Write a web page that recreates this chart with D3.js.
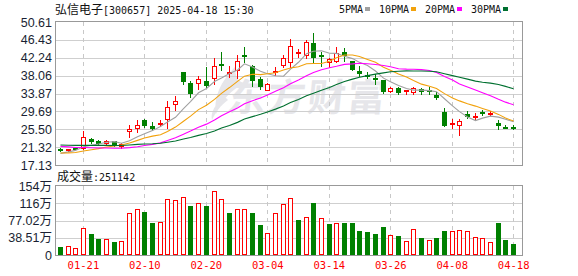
<!DOCTYPE html>
<html><head><meta charset="utf-8">
<script src="https://cdn.jsdelivr.net/npm/d3@7/dist/d3.min.js"></script>
<style>html,body{margin:0;padding:0;background:#fff;}svg{display:block}</style>
</head><body>
<svg id="c" width="578" height="276"></svg>
<script>
// ---------------- DATA ----------------
const stockName = "弘信电子";
const stockCode = "300657";
const stamp = "2025-04-18 15:30";
const dates = ["2025-01-16","2025-01-17","2025-01-20","2025-01-21","2025-01-22","2025-01-23","2025-01-24","2025-01-27",
"2025-02-05","2025-02-06","2025-02-07","2025-02-10","2025-02-11","2025-02-12","2025-02-13","2025-02-14","2025-02-17","2025-02-18","2025-02-19","2025-02-20","2025-02-21","2025-02-24","2025-02-25","2025-02-26","2025-02-27","2025-02-28",
"2025-03-03","2025-03-04","2025-03-05","2025-03-06","2025-03-07","2025-03-10","2025-03-11","2025-03-12","2025-03-13","2025-03-14","2025-03-17","2025-03-18","2025-03-19","2025-03-20","2025-03-21","2025-03-24","2025-03-25","2025-03-26","2025-03-27","2025-03-28","2025-03-31",
"2025-04-01","2025-04-02","2025-04-03","2025-04-07","2025-04-08","2025-04-09","2025-04-10","2025-04-11","2025-04-14","2025-04-15","2025-04-16","2025-04-17","2025-04-18"];
const open  = [20.95,20.6,21.15,21.0,23.2,22.8,22.2,22.7,21.6,25.1,25.9,27.6,26.2,26.7,27.8,31.3,38.8,36.3,36.3,36.9,37.6,40.8,38.8,39.4,43.0,40.4,37.3,34.8,38.9,40.5,41.2,43.3,42.9,45.8,43.0,41.2,41.5,43.7,41.4,39.1,38.3,37.6,37.0,34.4,35.1,34.4,34.2,35.0,34.7,33.6,29.5,26.7,26.5,29.1,28.5,29.6,29.1,26.9,26.0,26.05];
const high  = [21.1,20.95,21.2,25.0,23.4,22.9,23.1,22.8,22.3,26.6,27.7,27.9,27.1,27.6,32.2,33.3,38.9,36.7,37.9,40.0,42.1,43.5,40.2,42.8,44.7,40.6,37.7,36.3,40.1,43.0,46.7,44.4,46.4,48.0,43.7,42.2,44.7,44.5,41.5,40.2,39.0,38.5,37.1,35.3,35.4,34.8,35.4,35.2,35.4,34.3,30.4,27.9,27.9,29.8,29.2,30.1,29.8,27.6,26.6,26.5];
const low   = [20.5,20.4,20.9,20.8,22.3,22.0,22.1,21.5,21.2,23.6,24.9,26.1,25.3,26.2,25.9,30.1,36.0,33.0,34.9,35.5,36.2,39.3,37.7,37.6,41.2,35.6,35.0,34.6,38.1,40.0,40.0,42.3,42.1,41.1,40.4,40.1,41.3,41.4,39.3,37.9,37.5,36.1,34.0,34.3,33.8,33.8,33.8,33.8,33.8,32.5,26.2,25.7,24.1,28.2,28.0,28.8,28.6,25.6,25.9,25.6];
const close = [20.6,20.85,20.95,23.8,22.6,22.1,22.8,21.7,22.0,25.5,26.6,26.3,25.5,26.9,30.6,32.2,36.5,33.7,37.2,35.6,40.4,40.5,39.0,41.4,42.8,36.7,35.5,36.0,39.2,42.2,45.0,43.5,46.0,42.1,42.8,42.0,43.4,42.6,39.4,38.4,38.2,37.1,34.2,35.2,34.1,34.6,35.2,34.2,34.6,32.9,26.3,26.9,27.4,28.4,28.7,29.1,29.3,26.2,25.95,25.9];
// volume in 万手
const volume = [17.9,20.1,15.0,59.6,46.9,35.7,35.0,29.0,31.3,93.1,102.0,96.0,71.4,73.0,124.3,122.1,128.8,109.4,116.1,109.4,142.2,124.3,93.8,102.0,102.0,93.8,67.0,48.4,93.8,113.2,126.6,78.1,84.2,116.1,81.9,69.2,71.4,72.1,72.1,53.6,51.3,46.9,62.5,44.0,41.7,31.3,57.4,38.0,33.5,38.0,53.6,52.9,55.1,52.9,39.5,37.3,29.0,71.4,33.5,25.1142];
// closes before the visible window (needed for the moving averages)
const priorCloses = [22.0,22.3,22.8,23.1,22.6,22.2,22.5,22.0,22.3,22.2,23.5,24.0,23.8,23.5,23.2,22.9,22.6,22.4,22.3,22.3,20.6,20.3,20.0,19.8,19.5,19.1,19.2,19.6,20.8];
const maPeriods = [5,10,20,30];
const maNames = ["5PMA","10PMA","20PMA","30PMA"];
const maColors = ["#a0a0a0","#f2a20c","#ff00ff","#007030"];
const priceTicks = [17.13,21.32,25.50,29.69,33.87,38.06,42.24,46.43,50.61];
const volTicks = [0,38.51,77.02,115.53,154.04];
const volTickLabels = ["0","38.51万","77.02万","116万","154万"];
const dateTicks = ["2025-01-21","2025-02-10","2025-02-20","2025-03-04","2025-03-14","2025-03-26","2025-04-08","2025-04-18"];

// ---------------- CHART ----------------
const RED="#ff0000", GREEN="#008000";
const svg = d3.select("#c");
const L=56, R=522, T=22, B=165, VT=186, VB=255;
const x = d3.scaleBand().domain(dates).range([56,517]);
const cx = d => Math.round(x(d) + x.bandwidth()/2);
const y = d3.scaleLinear().domain([17.13,50.61]).range([B,T]);
const yv = d3.scaleLinear().domain([0,154.04]).range([VB,VT]);

const data = dates.map((d,i)=>({date:d,o:open[i],h:high[i],l:low[i],c:close[i],v:volume[i],
  prev: i===0 ? priorCloses[priorCloses.length-1] : close[i-1]}));
const all = priorCloses.concat(close);
const np = priorCloses.length;

// watermark
const wm = svg.append("g").attr("fill","#e6e6ea");
wm.append("path").attr("d","M236,66 C224,78 213,94 216,114 C222,100 230,90 246,83 C238,83 234,76 236,66 Z M224,96 C216,104 210,112 212,120 C216,112 220,106 228,100 Z");
wm.append("text").attr("x",226).attr("y",111).attr("font-size",38).attr("font-weight","bold")
  .attr("font-family","'Noto Sans CJK SC'").attr("letter-spacing",2)
  .attr("transform","skewX(-6) translate(12,0)").text("东方财富");

// grid
const grid = svg.append("g").attr("shape-rendering","crispEdges");
priceTicks.slice(1,-1).forEach(v=>{
  const yy=Math.round(y(v))+0.5;
  grid.append("line").attr("x1",L).attr("x2",R).attr("y1",yy).attr("y2",yy).attr("stroke","#cfcfcf");
});
volTicks.slice(1,-1).forEach(v=>{
  const yy=Math.round(yv(v))+0.5;
  grid.append("line").attr("x1",L).attr("x2",R).attr("y1",yy).attr("y2",yy).attr("stroke","#cfcfcf");
});
dateTicks.forEach(d=>{
  const xx=cx(d)+0.5;
  [[T,B],[VT,VB]].forEach(([a,b])=>grid.append("line").attr("x1",xx).attr("x2",xx).attr("y1",a).attr("y2",b)
    .attr("stroke","#c8c8c8").attr("stroke-dasharray","4,4"));
});

// candles
const cg = svg.append("g").attr("shape-rendering","crispEdges");
data.forEach(d=>{
  const up = d.c >= d.o;
  const col = up ? RED : GREEN;
  const xc = cx(d.date);
  cg.append("line").attr("x1",xc+0.5).attr("x2",xc+0.5).attr("y1",Math.round(y(d.h))).attr("y2",Math.round(y(d.l))+1).attr("stroke",col);
  const y1=Math.round(y(Math.max(d.o,d.c))), y2=Math.round(y(Math.min(d.o,d.c)));
  if(up){
    cg.append("rect").attr("x",xc-2+0.5).attr("y",y1+0.5).attr("width",4).attr("height",Math.max(y2-y1,1))
      .attr("fill","#fff").attr("stroke",col);
  } else {
    cg.append("rect").attr("x",xc-2).attr("y",y1).attr("width",5).attr("height",Math.max(y2-y1,2)).attr("fill",col);
  }
});

// moving averages
const clipId="plotclip";
svg.append("clipPath").attr("id",clipId).append("rect").attr("x",L).attr("y",T).attr("width",R-L).attr("height",B-T);
maPeriods.forEach((n,k)=>{
  const pts = data.map((d,i)=>({date:d.date, v:d3.mean(all.slice(np+i-n+1, np+i+1))}));
  svg.append("path").datum(pts).attr("clip-path",`url(#${clipId})`)
    .attr("d", d3.line().x(p=>cx(p.date)+0.5).y(p=>y(p.v)))
    .attr("fill","none").attr("stroke",maColors[k]).attr("stroke-width",1.1);
});

// volume bars
const vg = svg.append("g").attr("shape-rendering","crispEdges");
data.forEach(d=>{
  const up = d.c >= d.prev;
  const xc = cx(d.date);
  const yt = Math.round(yv(d.v));
  if(up){
    vg.append("rect").attr("x",xc-2+0.5).attr("y",yt+0.5).attr("width",4).attr("height",VB-yt-1)
      .attr("fill","#fff").attr("stroke",RED);
  } else {
    vg.append("rect").attr("x",xc-2).attr("y",yt).attr("width",5).attr("height",VB-yt).attr("fill",GREEN);
  }
});

// frames
const fr = svg.append("g").attr("fill","none").attr("stroke","#999").attr("shape-rendering","crispEdges");
fr.append("rect").attr("x",L-0.5).attr("y",T-0.5).attr("width",R-L+1).attr("height",B-T+1);
fr.append("rect").attr("x",L-0.5).attr("y",VT-0.5).attr("width",R-L+1).attr("height",VB-VT+1);

// axes
const FS = "'Liberation Sans', Arial, 'Noto Sans CJK SC'";
const ay = svg.append("g").attr("transform",`translate(${L},0)`)
  .call(d3.axisLeft(y).tickValues(priceTicks).tickSize(0).tickPadding(4).tickFormat(v=>v.toFixed(2)));
const av = svg.append("g").attr("transform",`translate(${L},0)`)
  .call(d3.axisLeft(yv).tickValues(volTicks).tickSize(0).tickPadding(4).tickFormat((v,i)=>volTickLabels[i]));
[ay,av].forEach(a=>{ a.select(".domain").remove();
  a.selectAll("text").attr("font-family",FS).attr("font-size",12.5).attr("fill","#1a1f33"); });

const ax = svg.append("g").attr("transform",`translate(0,${VB})`)
  .call(d3.axisBottom(x).tickValues(dateTicks).tickSize(0).tickPadding(7).tickFormat(d=>d.slice(5)));
ax.select(".domain").remove();
ax.selectAll("text").attr("font-family","'DejaVu Sans Mono', monospace").attr("font-size",10.5).attr("fill",RED)
  .attr("transform","translate(0.5,0)");

// title
const MONO="'DejaVu Sans Mono', monospace", CJK="'Noto Sans CJK SC'";
const t = svg.append("text").attr("x",55).attr("y",13.5).attr("fill","#111");
t.append("tspan").attr("font-family",CJK).attr("font-size",12).text(stockName);
t.append("tspan").attr("font-family",MONO).attr("font-size",10).text(`[${stockCode}] ${stamp}`);

// volume caption
const vt = svg.append("text").attr("x",57).attr("y",181).attr("fill","#111");
vt.append("tspan").attr("font-family",CJK).attr("font-size",12).text("成交量");
vt.append("tspan").attr("font-family",MONO).attr("font-size",10).text(":"+Math.round(volume[volume.length-1]*10000));

// legend
let lx = 339;
maNames.forEach((nm,k)=>{
  const tx = svg.append("text").attr("x",lx).attr("y",13).attr("font-family",MONO).attr("font-size",10)
    .attr("fill","#111").text(nm);
  const w = tx.node().getComputedTextLength();
  svg.append("rect").attr("x",Math.round(lx+w+2)).attr("y",7).attr("width",5).attr("height",4).attr("fill",maColors[k]);
  lx = Math.round(lx+w+2) + 5 + 9;
});
</script>
</body></html>
